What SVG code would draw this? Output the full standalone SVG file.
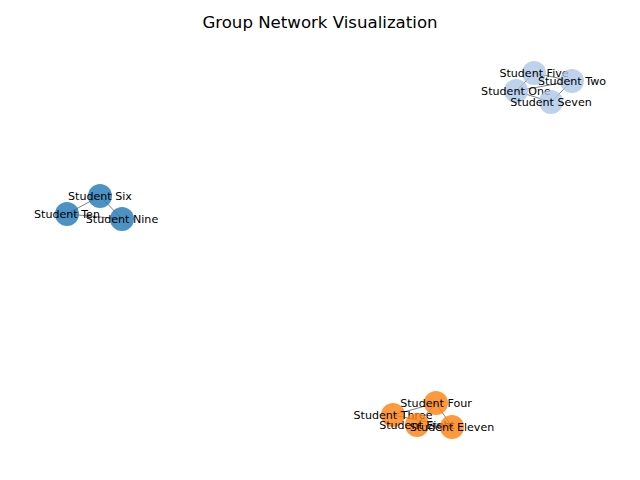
<svg xmlns="http://www.w3.org/2000/svg" width="640" height="480" viewBox="0 0 640 480">
<style>
.e{stroke:#000;stroke-opacity:0.5;stroke-width:1;fill:none}
.n{stroke:none;fill-opacity:0.8}
.a{fill:#aec7e8}.b{fill:#1f77b4}.c{fill:#ff7f0e}
.l{font-family:"DejaVu Sans",sans-serif;font-size:11.1px;fill:#000;text-anchor:middle;dominant-baseline:central}
.t{font-family:"DejaVu Sans",sans-serif;font-size:16.6px;fill:#000;text-anchor:middle}
</style>
<rect width="640" height="480" fill="#fff"/>
<text class="t" x="320" y="28">Group Network Visualization</text>
<g id="edges">
<line class="e" x1="516" y1="91" x2="534" y2="73"/>
<line class="e" x1="516" y1="91" x2="572" y2="81"/>
<line class="e" x1="534" y1="73" x2="572" y2="81"/>
<line class="e" x1="551" y1="102" x2="572" y2="81"/>
<line class="e" x1="516" y1="91" x2="551" y2="102"/>
<line class="e" x1="67" y1="214" x2="100" y2="196"/>
<line class="e" x1="100" y1="196" x2="122" y2="219"/>
<line class="e" x1="67" y1="214" x2="122" y2="219"/>
<line class="e" x1="393" y1="415" x2="436" y2="403"/>
<line class="e" x1="436" y1="403" x2="417" y2="425"/>
<line class="e" x1="436" y1="403" x2="452" y2="427"/>
<line class="e" x1="393" y1="415" x2="452" y2="427"/>
<line class="e" x1="417" y1="425" x2="452" y2="427"/>
</g>
<g id="n-five"><circle class="n a" cx="534" cy="73" r="12"/><text class="l" x="534" y="73">Student Five</text></g>
<g id="n-two"><circle class="n a" cx="572" cy="81" r="12"/><text class="l" x="572" y="81">Student Two</text></g>
<g id="n-one"><circle class="n a" cx="516" cy="91" r="12"/><text class="l" x="516" y="91">Student One</text></g>
<g id="n-seven"><circle class="n a" cx="551" cy="102" r="12"/><text class="l" x="551" y="102">Student Seven</text></g>
<g id="n-six"><circle class="n b" cx="100" cy="196" r="12"/><text class="l" x="100" y="196">Student Six</text></g>
<g id="n-ten"><circle class="n b" cx="67" cy="214" r="12"/><text class="l" x="67" y="214">Student Ten</text></g>
<g id="n-nine"><circle class="n b" cx="122" cy="219" r="12"/><text class="l" x="122" y="219">Student Nine</text></g>
<g id="n-four"><circle class="n c" cx="436" cy="403" r="12"/><text class="l" x="436" y="403">Student Four</text></g>
<g id="n-three"><circle class="n c" cx="393" cy="415" r="12"/><text class="l" x="393" y="415">Student Three</text></g>
<g id="n-eight"><circle class="n c" cx="417" cy="425" r="12"/><text class="l" x="417" y="425">Student Eight</text></g>
<g id="n-eleven"><circle class="n c" cx="452" cy="427" r="12"/><text class="l" x="452" y="427">Student Eleven</text></g>
</svg>
